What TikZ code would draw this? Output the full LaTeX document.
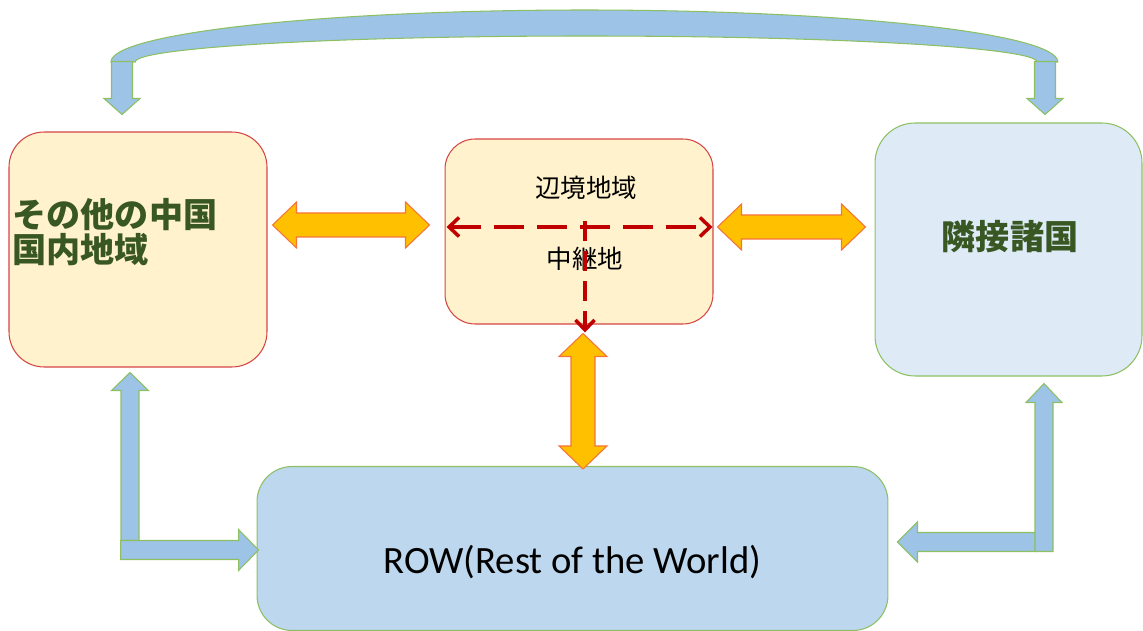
\documentclass[tikz,border=0pt]{standalone}
\usepackage{fontspec}
\setmainfont{Carlito}
\newfontfamily\jpfont{Noto Sans CJK JP}
\usetikzlibrary{calc, arrows.meta}

\definecolor{boxyellow}{HTML}{FFF2CC}
\definecolor{boxred}{HTML}{D64545}
\definecolor{nbblue}{HTML}{DEEBF7}
\definecolor{rowblue}{HTML}{BDD7EE}
\definecolor{edgegreen}{HTML}{8CC063}
\definecolor{flowblue}{HTML}{9DC3E6}
\definecolor{tradeorange}{HTML}{FFC000}
\definecolor{tradeedge}{HTML}{F4743B}
\definecolor{labelgreen}{HTML}{385723}
\definecolor{relayred}{HTML}{C00000}

\tikzset{
  region/.style={draw=boxred, fill=boxyellow, line width=0.6pt, inner sep=0pt},
  outside/.style={draw=edgegreen, line width=0.6pt, inner sep=0pt},
  flow/.style={draw=edgegreen, fill=flowblue, line width=0.6pt},
  trade/.style={draw=tradeedge, fill=tradeorange, line width=0.6pt, line join=miter},
  relay/.style={draw=relayred, line width=2pt, dash pattern=on 0.6cm off 0.26cm,
    >={Straight Barb[length=0.2cm, width=0.38cm]}},
  bigjp/.style={font=\jpfont\bfseries\fontsize{19.4}{19.9}\selectfont, text=labelgreen},
  smalljp/.style={font=\jpfont\fontsize{14.5}{16}\selectfont}
}

% horizontal and vertical two-headed block arrows
\newcommand{\hdblarrow}[2]{\draw[trade] (#1) -- ++(24,-23) -- ++(0,11) -- ($(#2)+(-24,-12)$) -- ++(0,-11) -- (#2) -- ++(-24,23) -- ++(0,-11) -- ($(#1)+(24,12)$) -- ++(0,11) -- cycle;}
\newcommand{\vdblarrow}[2]{\draw[trade] (#1) -- ++(24,23) -- ++(-12,0) -- ($(#2)+(12,-23)$) -- ++(12,0) -- (#2) -- ++(-24,-23) -- ++(12,0) -- ($(#1)+(-12,23)$) -- ++(-12,0) -- cycle;}

\begin{document}
\begin{tikzpicture}[x=0.02cm, y=-0.02cm]
  \useasboundingbox (0,0) rectangle (1143,631);

  % boxes
  \node[region, minimum width=5.16cm, minimum height=4.7cm, rounded corners=0.7cm] (mainland) at (138,249.5) {};
  \node[region, minimum width=5.36cm, minimum height=3.7cm, rounded corners=0.6cm] (border) at (579,231.5) {};
  \node[outside, fill=nbblue, minimum width=5.34cm, minimum height=5.06cm, rounded corners=0.8cm] (neighbor) at (1008.5,249.5) {};
  \node[outside, fill=rowblue, minimum width=12.62cm, minimum height=3.28cm, rounded corners=0.7cm] (row) at (572.5,548.5) {};

  % labels
  \node[bigjp, anchor=west, align=left] (mainlandtxt) at ($(mainland.west)+(-2,-17)$) {その他の中国\\国内地域};
  \node[bigjp] (neighbortxt) at ($(neighbor.center)+(1.5,-12.5)$) {隣接諸国};
  \node[smalljp] (bordertxt) at ($(border.center)+(7,-43.5)$) {辺境地域};
  \node[smalljp] (relaytxt) at ($(border.center)+(6,27.5)$) {中継地};
  \node[font=\fontsize{22}{24}\selectfont] (rowtxt) at ($(row.center)+(0,13.5)$) {ROW(Rest of the World)};

  % dashed relay arrows
  \coordinate (rw) at ($(border.west)+(2,-4.5)$);
  \coordinate (re) at ($(border.east)+(-1,-4.5)$);
  \coordinate (rc) at ($(border.center)+(6,-10)$);
  \coordinate (rs) at ($(border.south)+(6,8)$);
  \draw[relay, <->] (rw) -- (re);
  \draw[relay, dash pattern=on 0.4cm off 0.2cm, ->] (rc) -- (rs);

  % orange trade arrows
  \coordinate (o1a) at ($(mainland.east)+(5,-24.5)$);
  \coordinate (o1b) at ($(border.west)+(-15,-6.5)$);
  \coordinate (o2a) at ($(border.east)+(4,-4.5)$);
  \coordinate (o2b) at ($(neighbor.west)+(-9,-22.5)$);
  \coordinate (o3a) at ($(border.south)+(4,9)$);
  \coordinate (o3b) at ($(row.north)+(10.5,3)$);
  \hdblarrow{o1a}{o1b}
  \hdblarrow{o2a}{o2b}
  \vdblarrow{o3a}{o3b}

  % top curved arrow
  \coordinate (tl) at ($(mainland.north)+(-16,-17)$);
  \coordinate (tr) at ($(neighbor.north)+(36.5,-8)$);
  \draw[flow] (111,62) arc[start angle=180, end angle=0, x radius=9.47cm, y radius=1.04cm] -- (1037,62) arc[start angle=0, end angle=180, x radius=9.02cm, y radius=0.52cm] -- cycle;
  \draw[flow] (tl) -- ++(-18,-16) -- ++(7.5,0) -- ++(0,-37) -- ++(21,0) -- ++(0,37) -- ++(7.5,0) -- cycle;
  \draw[flow] (tr) -- ++(-18,-16) -- ++(7.5,0) -- ++(0,-37) -- ++(21,0) -- ++(0,37) -- ++(7.5,0) -- cycle;

  % left L arrow
  \coordinate (lu) at ($(mainland.south)+(-8,5)$);
  \coordinate (lr) at ($(row.west)+(2,1.5)$);
  \draw[flow] (lu) -- ++(18.5,18) -- ++(-9.5,0) -- ++(0,150) -- ++(-18,0) -- ++(0,-150) -- ++(-9.5,0) -- cycle;
  \draw[flow] (lr) -- ++(-20,20.5) -- ++(0,-11) -- ++(-118,0) -- ++(0,-19) -- ++(118,0) -- ++(0,-11) -- cycle;

  % right L arrow
  \coordinate (ru) at ($(neighbor.south)+(35.5,7)$);
  \coordinate (rl) at ($(row.east)+(9,-6.5)$);
  \draw[flow] (rl) -- ++(20,-20) -- ++(0,10.5) -- ++(118,0) -- ++(0,19) -- ++(-118,0) -- ++(0,10.5) -- cycle;
  \draw[flow] (ru) -- ++(18,19) -- ++(-9,0) -- ++(0,149) -- ++(-18,0) -- ++(0,-149) -- ++(-9,0) -- cycle;
\end{tikzpicture}
\end{document}
